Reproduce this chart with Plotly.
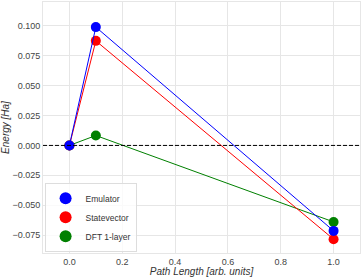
import plotly.graph_objects as go

path = [0.0, 0.1, 1.0]
emulator = [0.0, 0.099, -0.0715]
emulator_err = [0.0015, 0.0015, 0.0015]
statevector = [0.0, 0.0875, -0.0785]
dft = [0.0, 0.0083, -0.064]

names = ["Emulator", "Statevector", "DFT 1-layer"]
colors = ["blue", "red", "green"]

xticks = [0.0, 0.2, 0.4, 0.6, 0.8, 1.0]
yticks = [-0.075, -0.050, -0.025, 0.0, 0.025, 0.050, 0.075, 0.100]

FONT = "Liberation Sans"

fig = go.Figure()
fig.add_trace(go.Scatter(x=path, y=dft, mode="lines+markers", showlegend=False,
                         line=dict(color="green", width=1), marker=dict(color="green", size=10)))
fig.add_trace(go.Scatter(x=path, y=statevector, mode="lines+markers", showlegend=False,
                         line=dict(color="red", width=1), marker=dict(color="red", size=10)))
fig.add_trace(go.Scatter(x=path, y=emulator, mode="lines+markers", showlegend=False,
                         line=dict(color="blue", width=1), marker=dict(color="blue", size=10),
                         error_y=dict(type="data", array=emulator_err, color="blue", thickness=1, width=4),
                         error_x=dict(type="constant", value=0.008, color="blue", thickness=1, width=2)))
# legend entries (markers only)
for n, c in zip(names, colors):
    fig.add_trace(go.Scatter(x=[None], y=[None], mode="markers", name=n,
                             marker=dict(color=c, size=10)))

fig.add_hline(y=0, line=dict(color="black", width=1, dash="4px,2px"))

axis_common = dict(showgrid=True, gridcolor="#e6e6e6", gridwidth=1, zeroline=False,
                   showline=True, linecolor="#e6e6e6", mirror=True, ticks="", automargin=False,
                   tickfont=dict(family=FONT, size=9, color="#444"))

fig.update_xaxes(range=[-0.1, 1.1], tickvals=xticks, ticktext=[f"{v:.1f}" for v in xticks],
                 title=dict(text="<i>Path Length [arb. units]</i>", standoff=2,
                            font=dict(family=FONT, size=10, color="#333")),
                 **axis_common)
fig.update_yaxes(range=[-0.09, 0.12], tickvals=yticks, ticktext=[f"{v:.3f}".replace("-", "\u2212") for v in yticks],
                 title=dict(text="<i>Energy [Ha]</i>", standoff=4,
                            font=dict(family=FONT, size=10, color="#333")),
                 **axis_common)

fig.update_layout(
    width=362, height=277,
    margin=dict(l=43, r=2, t=2, b=24, pad=0),
    paper_bgcolor="white", plot_bgcolor="white",
    legend=dict(x=0.005, y=0.005, xanchor="left", yanchor="bottom",
                bgcolor="rgba(255,255,255,0.8)", bordercolor="#dddddd", borderwidth=1,
                font=dict(family=FONT, size=8.5, color="#333"),
                itemsizing="constant", tracegroupgap=0, itemwidth=30),
    showlegend=True,
)

fig.write_html("out.html", config={"displayModeBar": False},
               post_script="document.body.style.margin='0';")
